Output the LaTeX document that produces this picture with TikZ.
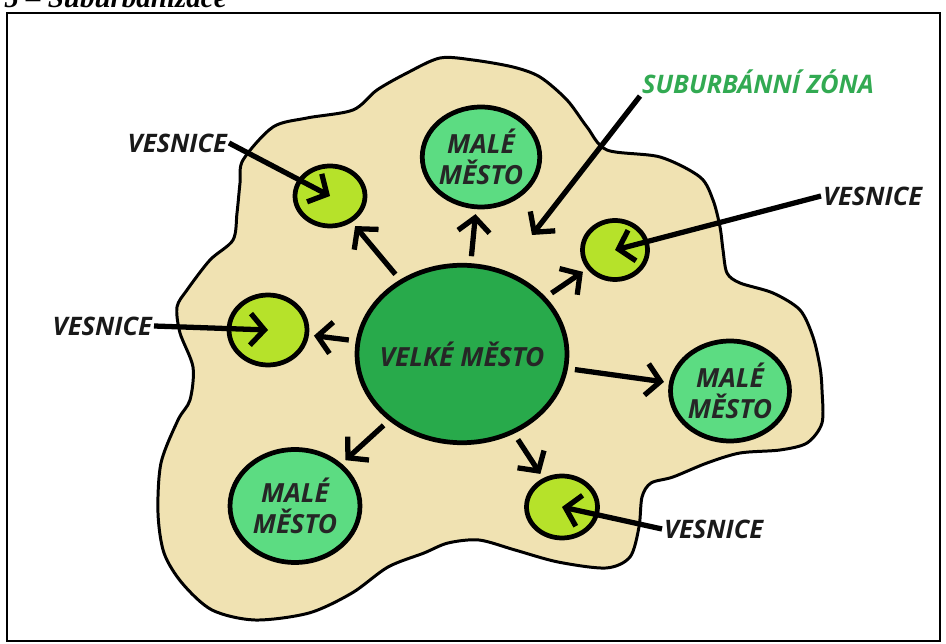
\documentclass[tikz,border=0pt]{standalone}
\usepackage{fontspec}
\setmainfont{Liberation Serif}
\newfontfamily\mapfont{Open Sans}
\usetikzlibrary{shapes.geometric,arrows.meta}
\definecolor{zona}{RGB}{240,226,178}
\definecolor{velke}{RGB}{40,170,75}
\definecolor{male}{RGB}{92,220,130}
\definecolor{ves}{RGB}{182,226,42}
\definecolor{zelena}{RGB}{50,170,82}

\begin{document}
\begin{tikzpicture}[x=0.02cm,y=-0.02cm,
	town/.style = {draw, ellipse, line width=2.7pt, inner sep=-6pt, align=center, text=black!85,
		font=\mapfont\bfseries\itshape\fontsize{15}{18}\selectfont},
	tag/.style = {inner sep=1pt, text=black!90, font=\mapfont\bfseries\itshape\fontsize{14.5}{17}\selectfont},
	arr/.style = {line width=3pt, -{Straight Barb[length=8pt,width=18pt]}},
	spread/.style = {arr, shorten <=0.14cm, shorten >=0.1cm}]
	\useasboundingbox (0,0) rectangle (946,644);
	\node[anchor=base west, inner sep=0pt, font=\bfseries\itshape\fontsize{16.5}{18}\selectfont] (title) at (4,8) {5 – Suburbanizace};
	\draw[line width=0.6pt] (7,13) rectangle (940,641);
	\draw[fill=zona, line width=1.7pt] plot[smooth cycle, tension=0.5] coordinates {
		(243,160) (273,127) (307,118) (353,110) (377,90) (407,73) (440,58) (473,60) (513,67) (540,77)
		(567,100) (587,127) (607,150) (660,157) (700,177) (713,200) (720,227) (723,250) (727,273)
		(740,283) (773,293) (800,310) (813,337) (820,367) (822,390) (822,423) (807,443) (780,450)
		(740,453) (707,463) (673,477) (651,483) (642,497) (639,527) (630,557) (606,568) (558,562)
		(515,550) (479,540) (448,543) (424,553) (388,567) (352,593) (309,613) (255,620) (212,610)
		(182,583) (164,553) (158,513) (161,463) (178,420) (190,400) (193,367) (180,333) (177,307)
		(187,290) (210,260) (233,240) (237,213) (240,183)};
	\node[town, fill=velke, minimum width=4.2cm, minimum height=3.55cm] (vm) at (462,354) {VELKÉ MĚSTO};
	\node[town, fill=male, minimum width=2.35cm, minimum height=2cm] (mm1) at (481,157) {MALÉ\\MĚSTO};
	\node[town, fill=male, minimum width=2.38cm, minimum height=2cm] (mm2) at (730,391) {MALÉ\\MĚSTO};
	\node[town, fill=male, minimum width=2.6cm, minimum height=2.26cm] (mm3) at (295,506) {MALÉ\\MĚSTO};
	\node[town, fill=ves, minimum width=1.4cm, minimum height=1.2cm] (v1) at (330,196) {};
	\node[town, fill=ves, minimum width=1.56cm, minimum height=1.4cm] (v2) at (268,330) {};
	\node[town, fill=ves, minimum width=1.3cm, minimum height=1.18cm] (v3) at (615,250) {};
	\node[town, fill=ves, minimum width=1.42cm, minimum height=1.24cm] (v4) at (562,507) {};
	\node[tag, anchor=east] (l1) at (229,143) {VESNICE};
	\node[tag, anchor=east] (l2) at (154,326) {VESNICE};
	\node[tag, anchor=west] (l3) at (821,196) {VESNICE};
	\node[tag, anchor=west] (l4) at (662,529) {VESNICE};
	\node[tag, text=zelena] (zl) at (758,82) {SUBURBÁNNÍ ZÓNA};
	\coordinate (zt) at (532,235);
	\draw[spread] (vm) -- (v1);
	\draw[spread] (vm) -- (mm1);
	\draw[spread] (vm) -- (v3);
	\draw[spread] (vm) -- (v2);
	\draw[spread] (vm) -- (mm2);
	\draw[spread] (vm) -- (mm3);
	\draw[spread] (vm) -- (v4);
	\draw[arr] (l1.east) -- (v1.center);
	\draw[arr] (l2.east) -- (v2.center);
	\draw[arr] (l3.west) -- (v3.center);
	\draw[arr] (l4.west) -- (v4.center);
	\draw[arr] (zl.south west) -- (zt);
\end{tikzpicture}
\end{document}
